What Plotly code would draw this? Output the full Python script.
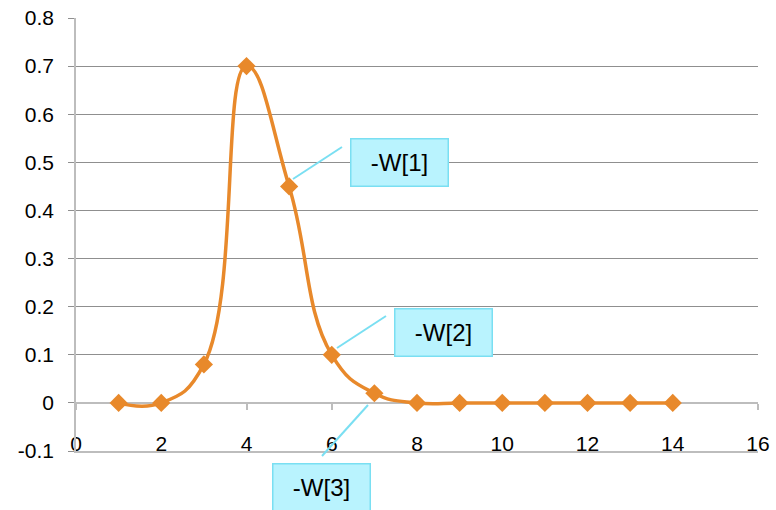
import plotly.graph_objects as go

x_vals = [1, 2, 3, 4, 5, 6, 7, 8, 9, 10, 11, 12, 13, 14]
y_vals = [0.0, 0.0, 0.08, 0.70, 0.45, 0.10, 0.02, 0.0, 0.0, 0.0, 0.0, 0.0, 0.0, 0.0]
x_ticks = [0, 2, 4, 6, 8, 10, 12, 14, 16]
y_ticks = [-0.1, 0, 0.1, 0.2, 0.3, 0.4, 0.5, 0.6, 0.7, 0.8]
y_tick_text = ["-0.1", "0", "0.1", "0.2", "0.3", "0.4", "0.5", "0.6", "0.7", "0.8"]
labels = ["-W[1]", "-W[2]", "-W[3]"]

W, H = 776, 510
L, R, T, B = 76, 758, 18, 451

def px(x):
    return (x - L) / (R - L)

def py(y):
    return (B - y) / (B - T)

ORANGE = "#E8892B"
CYAN_FILL = "#B9F3FE"
CYAN_LINE = "#7ADFF2"
FONT = "Liberation Sans, Arial, sans-serif"

fig = go.Figure()
fig.add_trace(go.Scatter(
    x=x_vals, y=y_vals, mode="lines+markers",
    line=dict(color=ORANGE, width=3.5, shape="spline", smoothing=1.3),
    marker=dict(symbol="diamond", size=14, color=ORANGE),
    showlegend=False, hoverinfo="x+y",
))
# helper trace so the axis crossing at y=0 is drawn
fig.add_trace(go.Scatter(
    x=x_vals, y=y_vals, mode="none", xaxis="x2", yaxis="y",
    showlegend=False, hoverinfo="skip",
))

fig.update_layout(
    width=W, height=H,
    margin=dict(l=L, r=W - R, t=T, b=H - B, autoexpand=False),
    paper_bgcolor="white", plot_bgcolor="white",
    font=dict(family=FONT, size=21, color="#000000"),
    xaxis=dict(
        range=[0, 16], showgrid=False, zeroline=False, automargin=False,
        showline=True, linecolor="#BDBDBD", linewidth=1.5,
        ticks="", showticklabels=False,
    ),
    xaxis2=dict(
        range=[0, 16], tickvals=x_ticks, ticktext=[str(v) for v in x_ticks],
        overlaying="x", anchor="free", automargin=False,
        position=(0 - (-0.1)) / 0.9, side="bottom",
        showline=True, linecolor="#BDBDBD", linewidth=1.5,
        ticks="outside", ticklen=6, tickcolor="#BDBDBD", tickwidth=1.5,
        showticklabels=True, ticklabelstandoff=16,
        tickfont=dict(family=FONT, size=21, color="#000"),
        showgrid=False, zeroline=False, layer="below traces",
    ),
    yaxis=dict(
        range=[-0.1, 0.8], tickvals=y_ticks, ticktext=y_tick_text, automargin=False,
        showgrid=True, gridcolor="#8F8F8F", gridwidth=1.2, zeroline=False,
        showline=True, linecolor="#BDBDBD", linewidth=1.5,
        ticks="outside", ticklen=6, tickcolor="#8F8F8F", tickwidth=1.2,
        ticklabelstandoff=10,
        tickfont=dict(family=FONT, size=21, color="#000"),
    ),
)

# callout boxes (pixel-derived centers)
boxes = [(399.5, 162.5), (443, 332), (321, 487.5)]
leaders = [((342, 147), (293, 179)), ((386, 316), (337, 348)), ((368, 405), (322, 456))]
for text, (cx, cy) in zip(labels, boxes):
    fig.add_annotation(
        x=px(cx), y=py(cy), xref="paper", yref="paper",
        xanchor="center", yanchor="middle", text=text, showarrow=False,
        font=dict(family=FONT, size=24, color="#000"),
        bgcolor=CYAN_FILL, bordercolor=CYAN_LINE, borderwidth=1.5, borderpad=0,
        width=96, height=46,
    )
for (a, b) in leaders:
    fig.add_shape(type="line", xref="paper", yref="paper",
                  x0=px(a[0]), y0=py(a[1]), x1=px(b[0]), y1=py(b[1]),
                  line=dict(color=CYAN_LINE, width=2))

fig.write_html("out.html")
